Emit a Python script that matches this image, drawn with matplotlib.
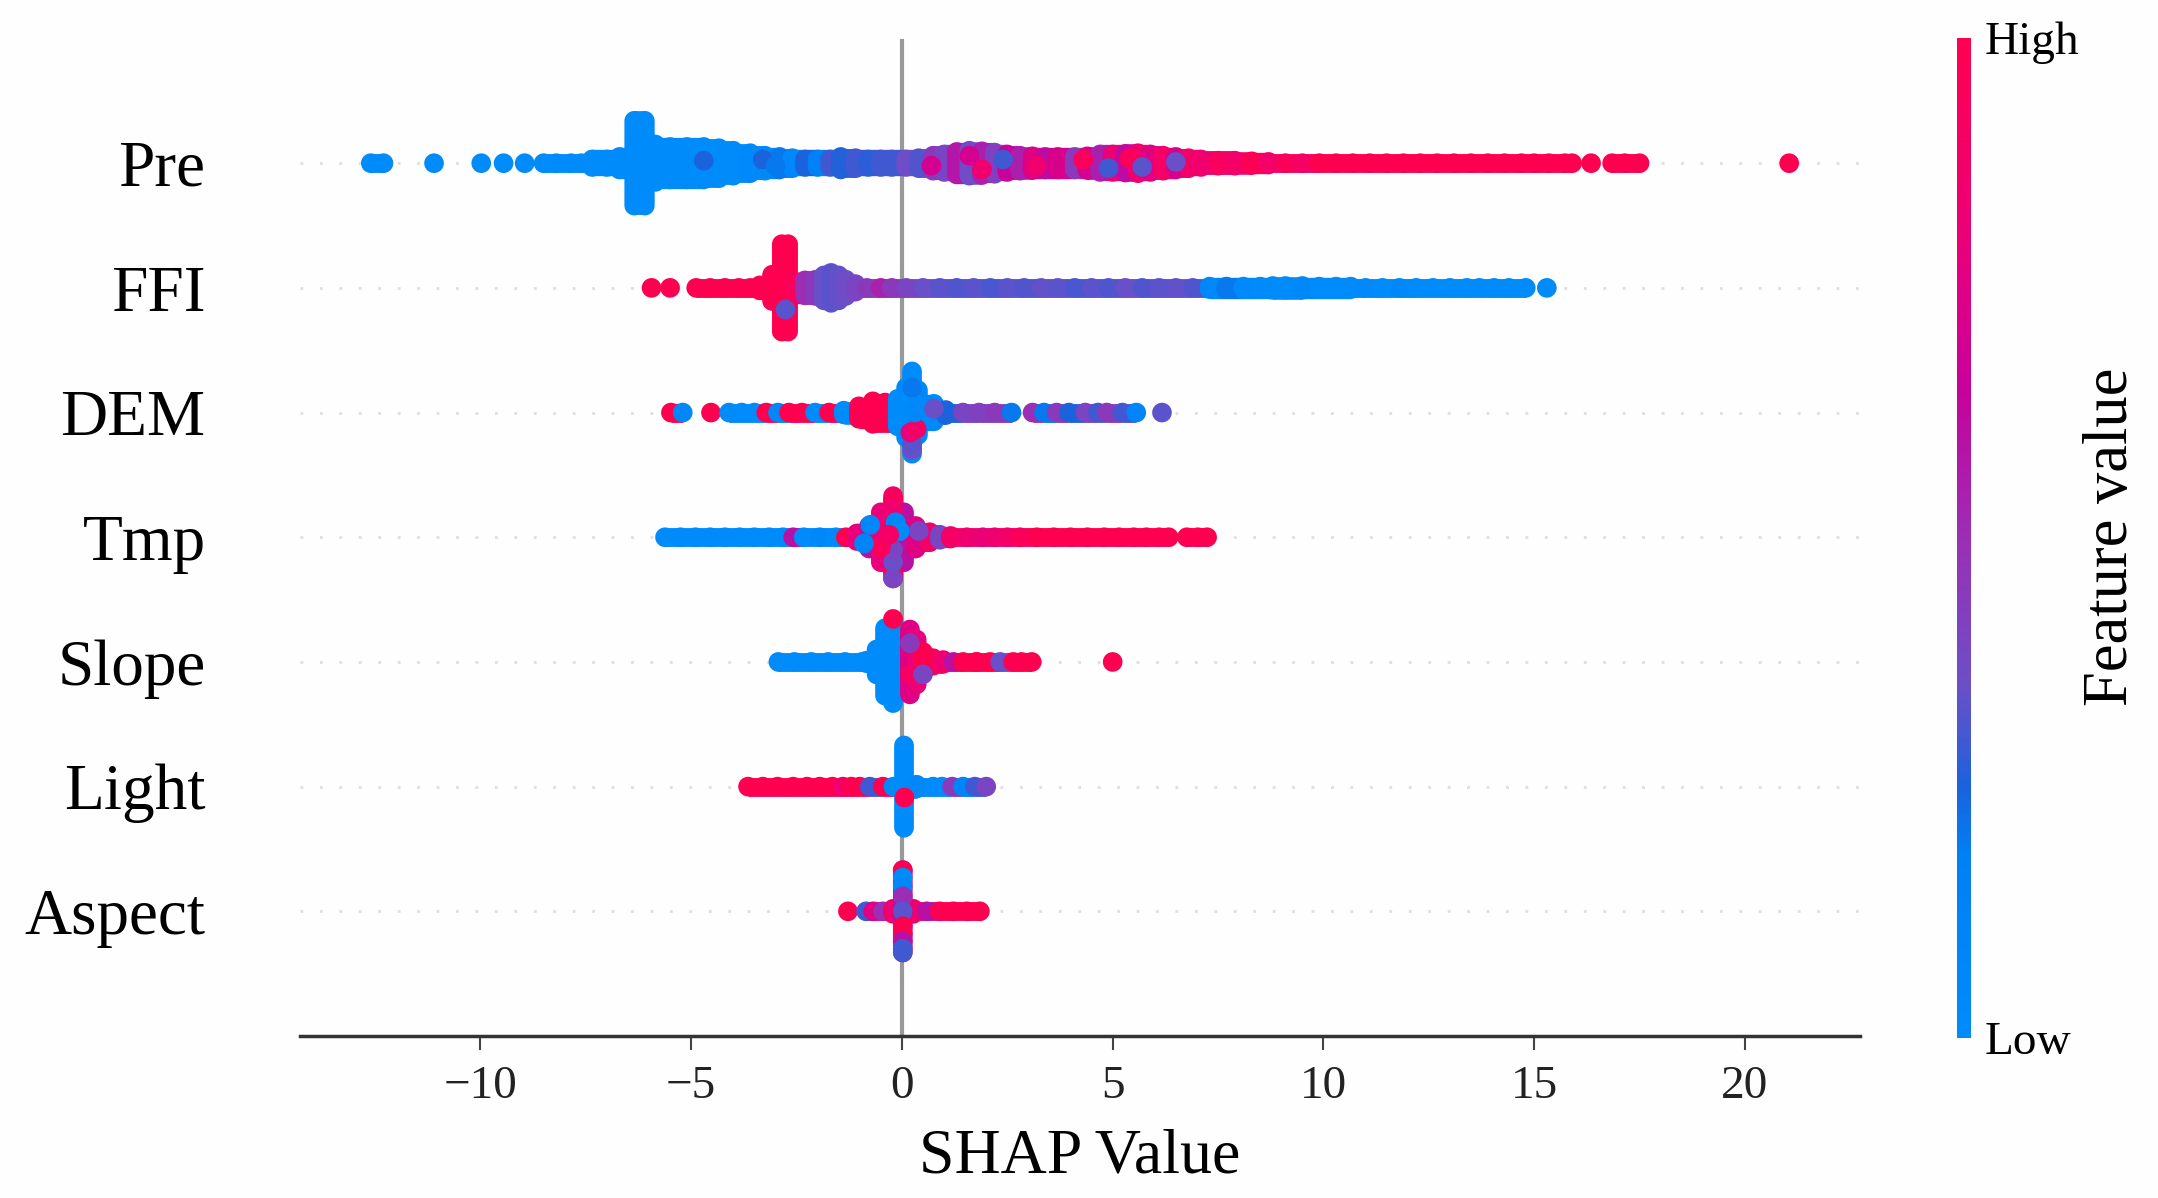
import matplotlib
matplotlib.use('Agg')
import matplotlib.pyplot as plt
from matplotlib.colors import LinearSegmentedColormap, Normalize
from matplotlib.cm import ScalarMappable
from matplotlib.collections import LineCollection
import numpy as np

plt.rcParams['font.family'] = ['Liberation Serif', 'DejaVu Serif']

features = ['Aspect', 'Light', 'Slope', 'Tmp', 'DEM', 'FFI', 'Pre']
x_ticks = [-10, -5, 0, 5, 10, 15, 20]

# each row: shap value, half height of the swarm (in row units), feature value 0-1
pre_x = [-12.6, -12.3, -11.1, -9.98, -9.45, -8.95, -8.5, -8.2, -7.85, -7.6,
         -7.35, -7.0, -6.7, -6.35, -6.1, -5.85, -5.5, -5.1, -4.7, -4.34,
         -4.0, -3.6, -3.25, -2.9, -2.6, -2.3, -2.0, -1.7, -1.45, -1.1,
         -0.8, -0.5, -0.24, 0.1, 0.4, 0.74, 1.0, 1.3, 1.6, 1.9,
         2.2, 2.5, 2.8, 3.1, 3.4, 3.7, 4.1, 4.4, 4.7, 5.0,
         5.3, 5.6, 5.9, 6.2, 6.5, 6.8, 7.1, 7.5, 7.9, 8.3,
         8.7, 9.1, 9.5, 9.9, 10.3, 10.7, 11.1, 11.5, 11.9, 12.3,
         12.7, 13.1, 13.5, 13.9, 14.3, 14.7, 15.0, 15.35, 15.73, 15.9,
         16.35, 16.85, 17.15, 17.5, 21.05]
pre_spread = [0, 0, 0, 0, 0, 0, 0, 0, 0, 0,
              0.03, 0.03, 0.05, 0.34, 0.34, 0.15, 0.13, 0.13, 0.13, 0.12,
              0.1, 0.08, 0.06, 0.05, 0.04, 0.03, 0.03, 0.03, 0.05, 0.04,
              0.03, 0.03, 0.03, 0.03, 0.04, 0.06, 0.07, 0.09, 0.1, 0.095,
              0.085, 0.07, 0.06, 0.055, 0.05, 0.05, 0.05, 0.055, 0.07, 0.07,
              0.075, 0.08, 0.07, 0.06, 0.05, 0.04, 0.03, 0.02, 0.02, 0.015,
              0.01, 0, 0, 0, 0, 0, 0, 0, 0, 0,
              0, 0, 0, 0, 0, 0, 0, 0, 0, 0,
              0, 0, 0, 0, 0]
pre_c = [0, 0, 0, 0, 0, 0, 0, 0, 0, 0,
         0, 0, 0, 0, 0, 0, 0, 0, 0, 0,
         0.02, 0.03, 0.05, 0.2, 0.06, 0.25, 0.15, 0.3, 0.26, 0.3,
         0.27, 0.3, 0.3, 0.36, 0.32, 0.45, 0.4, 0.58, 0.36, 0.55,
         0.42, 0.66, 0.55, 0.75, 0.62, 0.72, 0.45, 0.7, 0.55, 0.82,
         0.62, 0.85, 0.75, 0.9, 0.72, 0.88, 0.85, 0.92, 0.88, 0.98,
         0.88, 0.95, 0.9, 1, 1, 1, 1, 1, 1, 1,
         1, 1, 1, 1, 1, 1, 1, 1, 1, 1,
         1, 1, 1, 1, 1]

ffi_x = [-5.94, -5.5, -4.88, -4.55, -4.2, -3.87, -3.6, -3.37, -3.08, -2.85,
         -2.7, -2.54, -2.3, -2.05, -1.85, -1.68, -1.5, -1.33, -1.1, -0.83,
         -0.5, -0.24, 0.1, 0.5, 0.9, 1.3, 1.7, 2.1, 2.5, 2.9,
         3.3, 3.7, 4.1, 4.5, 4.9, 5.3, 5.7, 6.1, 6.5, 6.9,
         7.3, 7.7, 8.1, 8.5, 8.8, 9.1, 9.5, 9.9, 10.3, 10.65,
         11.0, 11.4, 11.8, 12.2, 12.6, 13.0, 13.4, 13.7, 14.05, 14.4,
         14.8, 15.3]
ffi_spread = [0, 0, 0, 0, 0, 0, 0, 0.02, 0.105, 0.35,
              0.35, 0.05, 0.06, 0.065, 0.1, 0.12, 0.1, 0.065, 0.03, 0,
              0, 0, 0, 0, 0, 0, 0, 0, 0, 0,
              0, 0, 0, 0, 0, 0, 0, 0, 0, 0,
              0.01, 0.01, 0.01, 0.01, 0.015, 0.015, 0.015, 0.01, 0.01, 0.01,
              0, 0, 0, 0, 0, 0, 0, 0, 0, 0,
              0, 0]
ffi_c = [1, 1, 1, 1, 1, 1, 1, 1, 1, 1,
         1, 0.95, 0.5, 0.45, 0.35, 0.33, 0.34, 0.36, 0.4, 0.45,
         0.55, 0.45, 0.4, 0.35, 0.33, 0.32, 0.33, 0.31, 0.33, 0.32,
         0.34, 0.33, 0.31, 0.33, 0.32, 0.35, 0.32, 0.33, 0.34, 0.32,
         0.05, 0.2, 0.03, 0.02, 0, 0, 0.05, 0, 0, 0,
         0.03, 0, 0.05, 0, 0, 0, 0, 0, 0, 0,
         0, 0]

dem_x = [-5.48, -5.2, -4.53, -4.1, -3.8, -3.5, -3.22, -2.94, -2.68, -2.37,
         -2.06, -1.73, -1.38, -1.02, -0.69, -0.4, -0.1, 0.1, 0.24, 0.38,
         0.76, 1.04, 1.45, 1.83, 2.2, 2.6, 3.1, 3.37, 3.67, 3.96,
         4.35, 4.65, 4.86, 5.23, 5.56, 6.17]
dem_spread = [0, 0, 0, 0, 0, 0, 0, 0, 0, 0,
              0, 0, 0.015, 0.05, 0.09, 0.08, 0.11, 0.2, 0.33, 0.18,
              0.07, 0.02, 0, 0, 0, 0, 0, 0, 0, 0,
              0, 0, 0, 0, 0, 0]
dem_c = [1, 0.05, 1, 0, 0, 0, 1, 0.05, 1, 1,
         0, 1, 0, 1, 1, 1, 0, 0, 0, 0.03,
         0.03, 0.25, 0.4, 0.42, 0.45, 0.2, 0.5, 0.2, 0.45, 0.25,
         0.4, 0.3, 0.45, 0.3, 0.1, 0.33]

tmp_x = [-5.62, -5.25, -4.9, -4.55, -4.2, -3.85, -3.5, -3.15, -2.82, -2.58,
         -2.33, -1.95, -1.57, -1.33, -1.07, -0.78, -0.5, -0.21, 0.05, 0.33,
         0.66, 0.9, 1.16, 1.54, 1.92, 2.2, 2.5, 2.8, 3.2, 3.6,
         4.0, 4.4, 4.8, 5.15, 5.5, 5.8, 6.1, 6.33, 6.76, 7.02,
         7.24]
tmp_spread = [0, 0, 0, 0, 0, 0, 0, 0, 0, 0,
              0, 0, 0, 0, 0.03, 0.09, 0.2, 0.33, 0.2, 0.09,
              0.04, 0.02, 0.01, 0, 0, 0, 0, 0, 0, 0,
              0, 0, 0, 0, 0, 0, 0, 0, 0, 0,
              0]
tmp_c = [0, 0, 0, 0, 0, 0, 0, 0, 0, 0.6,
         0, 0.05, 0, 1, 0.8, 0.6, 0.8, 0.9, 0.6, 0.75,
         0.9, 0.4, 0.9, 0.85, 0.8, 0.85, 0.88, 0.95, 1, 1,
         1, 1, 1, 1, 1, 1, 1, 1, 1, 1,
         1]

slope_x = [-2.93, -2.55, -2.15, -1.75, -1.35, -0.95, -0.84, -0.6, -0.4, -0.21,
           0, 0.19, 0.35, 0.5, 0.74, 0.98, 1.22, 1.45, 1.77, 2.09,
           2.33, 2.64, 2.84, 3.08, 5.0]
slope_spread = [0, 0, 0, 0, 0, 0, 0.01, 0.1, 0.27, 0.33,
                0.2, 0.26, 0.18, 0.08, 0.03, 0.015, 0, 0, 0, 0,
                0, 0, 0, 0, 0]
slope_c = [0, 0, 0, 0, 0, 0, 0, 0, 0, 0,
           0.02, 0.75, 0.8, 1, 0.95, 0.85, 0.6, 1, 1, 1,
           0.35, 1, 1, 1, 1]

light_x = [-3.65, -3.3, -2.95, -2.58, -2.25, -1.95, -1.65, -1.4, -1.2, -1.0,
           -0.76, -0.45, -0.2, 0.05, 0.35, 0.74, 0.95, 1.19, 1.45, 1.73,
           2.0]
light_spread = [0, 0, 0, 0, 0, 0, 0, 0, 0, 0,
                0, 0, 0, 0.33, 0.015, 0, 0, 0, 0, 0,
                0]
light_c = [1, 1, 1, 1, 1, 1, 1, 0.85, 1, 1,
           0.3, 1, 0, 0, 0.05, 0, 0, 0.45, 0.1, 0.3,
           0.4]

aspect_x = [-1.28, -0.85, -0.68, -0.45, -0.21, 0.02, 0.27, 0.59, 0.9, 1.22, 1.54, 1.85]
aspect_spread = [0, 0, 0, 0, 0.02, 0.33, 0.02, 0, 0, 0, 0, 0]
aspect_c = [1, 0.3, 0.75, 0.5, 0.85, 0.6, 0.85, 0.6, 1, 1, 1, 1]

# single dots that stick out of the swarm: shap value, row offset, feature value
pre_spot_x = [-3.3, -3.0, -4.7, 0.7, 1.6, 1.9, 2.4, 3.2, 4.3, 4.9, 5.4, 5.7, 6.5]
pre_spot_off = [0.03, -0.02, 0.02, -0.02, 0.06, -0.05, 0.03, -0.02, 0.03, -0.04, 0.04, -0.03, 0.01]
pre_spot_c = [0.25, 0.2, 0.25, 0.7, 0.7, 0.85, 0.3, 0.85, 0.95, 0.3, 0.95, 0.33, 0.35]

ffi_spot_x = [-2.77]
ffi_spot_off = [-0.17]
ffi_spot_c = [0.33]

dem_spot_x = [0.24, 0.24, 0.2, 0.35, 0.76, 0.24, 0.3]
dem_spot_off = [-0.3, -0.25, -0.16, -0.13, 0.03, 0.2, 0.0]
dem_spot_c = [0.35, 0.33, 0.8, 0.9, 0.35, 0.2, 0.05]

tmp_spot_x = [-0.21, -0.21, -0.21, -0.21, -0.21, -0.15, -0.05, -0.75, -0.21, 0.4, -0.5, -0.3, -0.9]
tmp_spot_off = [0.3, 0.23, -0.28, -0.33, -0.2, 0.12, 0.05, 0.1, -0.1, 0.05, -0.08, 0.02, -0.05]
tmp_spot_c = [0.95, 0.85, 0.9, 0.4, 0.35, 0.05, 0, 0.05, 0.4, 0.4, 0.95, 0.9, 0.1]

slope_spot_x = [-0.21, 0.19, 0.19, 0.5, 0.5, 1.77]
slope_spot_off = [0.345, 0.15, -0.1, 0.03, -0.1, 0]
slope_spot_c = [1, 0.45, 0.9, 1, 0.4, 1]

light_spot_x = [0.05]
light_spot_off = [-0.08]
light_spot_c = [1]

aspect_spot_x = [0.02, 0.02, 0.02, 0.02, 0.02, 0.02, 0.02, 0.02, 0.02, 0.02]
aspect_spot_off = [0.33, 0.27, 0.2, 0.12, 0, -0.12, -0.18, -0.24, -0.3, -0.33]
aspect_spot_c = [1, 0, 0.05, 0.5, 0.33, 1, 1, 0.6, 0.3, 0.3]

rows = [
    (aspect_x, aspect_spread, aspect_c, aspect_spot_x, aspect_spot_off, aspect_spot_c),
    (light_x, light_spread, light_c, light_spot_x, light_spot_off, light_spot_c),
    (slope_x, slope_spread, slope_c, slope_spot_x, slope_spot_off, slope_spot_c),
    (tmp_x, tmp_spread, tmp_c, tmp_spot_x, tmp_spot_off, tmp_spot_c),
    (dem_x, dem_spread, dem_c, dem_spot_x, dem_spot_off, dem_spot_c),
    (ffi_x, ffi_spread, ffi_c, ffi_spot_x, ffi_spot_off, ffi_spot_c),
    (pre_x, pre_spread, pre_c, pre_spot_x, pre_spot_off, pre_spot_c),
]

# same look as the shap red_blue map
red_blue = LinearSegmentedColormap.from_list('red_blue', [
    (0.0, '#008bfb'), (0.18, '#0080f5'), (0.25, '#1a63dc'), (0.35, '#6a4fc8'),
    (0.5, '#9b2fb5'), (0.65, '#c8009c'), (0.8, '#ea0078'), (1.0, '#ff0051')])

fig = plt.figure(figsize=(21.58, 11.98), dpi=100, facecolor='#fefefe')
ax = fig.add_axes([300 / 2158, 162 / 1198, 1560 / 2158, 997.5 / 1198], facecolor='#fefefe')

ax.axvline(0, color='#999999', lw=3, zorder=-1)
for i in range(len(features)):
    ax.axhline(i, color='#dedede', lw=2, ls=(0, (1, 6)), zorder=-2)

dot_size = 200
dot_pts = np.sqrt(dot_size)
row_pts = 997.5 / 8 * 72 / 100  # one row in points
max_gap = 0.41  # dots closer than this melt into a band

for i, (sx, spread, c, spot_x, spot_off, spot_c) in enumerate(rows):
    # bands between neighbouring dots
    segs, widths, seg_c = [], [], []
    for j in range(len(sx) - 1):
        if sx[j + 1] - sx[j] <= max_gap:
            segs.append([(sx[j], i), (sx[j + 1], i)])
            widths.append(dot_pts * 0.96 + 2 * min(spread[j], spread[j + 1]) * row_pts)
            seg_c.append(c[j])
    if segs:
        band = LineCollection(segs, linewidths=widths, colors=red_blue(seg_c), capstyle='butt', zorder=1.5)
        ax.add_collection(band)

    xs, ys, cs = [], [], []
    for px, sp, pc in zip(sx, spread, c):
        n = int(np.ceil(sp / 0.03))
        for k in range(-n, n + 1):
            xs.append(px)
            ys.append(i + (k / n * sp if n else 0))
            cs.append(pc)
    ax.scatter(xs, ys, c=cs, s=dot_size, cmap=red_blue, vmin=0, vmax=1, linewidths=0, zorder=2)
    ax.scatter(spot_x, np.array(spot_off) + i, c=spot_c, s=dot_size, cmap=red_blue, vmin=0, vmax=1,
               linewidths=0, zorder=3)

ax.set_xlim(-14.28, 22.73)
ax.set_ylim(-1, 7)
ax.set_yticks(range(len(features)))
ax.set_yticklabels(features, fontsize=47)
ax.set_xticks(x_ticks)
ax.tick_params(axis='y', length=0, pad=68)
ax.tick_params(axis='x', length=10, width=1.5, color='#444444', pad=11, labelsize=34, labelcolor='#222222')
ax.set_xlabel('SHAP Value', fontsize=46, labelpad=15)
for s in ['top', 'left', 'right']:
    ax.spines[s].set_visible(False)
ax.spines['bottom'].set_linewidth(2.5)
ax.spines['bottom'].set_color('#333333')

# colorbar
cax = fig.add_axes([1957 / 2158, 160 / 1198, 14 / 2158, 1000 / 1198])
cb = fig.colorbar(ScalarMappable(Normalize(0, 1), red_blue), cax=cax, ticks=[0, 1])
cb.outline.set_visible(False)
cb.ax.set_yticklabels(['Low', 'High'], fontsize=34)
cb.ax.tick_params(length=0, pad=10)
fig.text(2112 / 2158, 1 - 537 / 1198, 'Feature value', rotation=90, fontsize=45, ha='center', va='center')

plt.savefig('out.png', dpi=100, facecolor=fig.get_facecolor())
